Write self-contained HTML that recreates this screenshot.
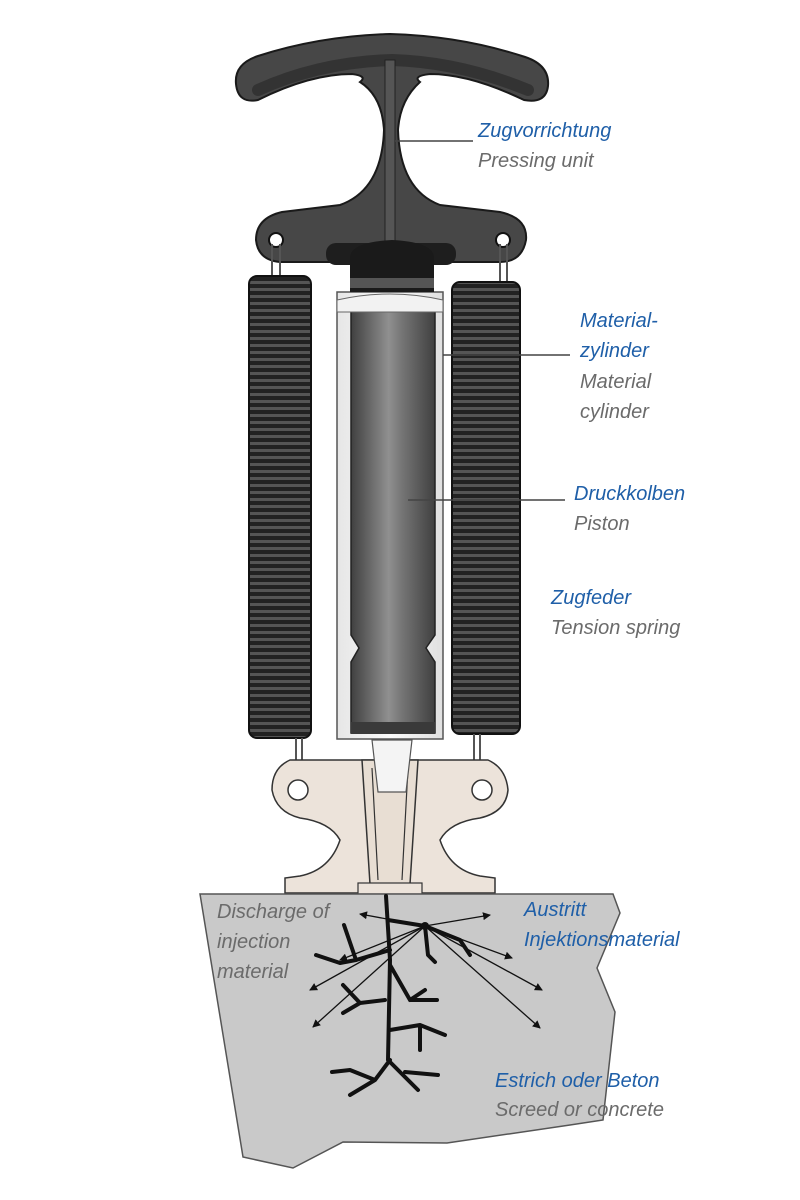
<!DOCTYPE html>
<html><head><meta charset="utf-8"><style>
html,body{margin:0;padding:0;background:#fff;}
svg{display:block}
.b{fill:#1f5fa8;font-family:"Liberation Sans",sans-serif;font-style:italic;font-size:20px}
.g{fill:#6b6b6b;font-family:"Liberation Sans",sans-serif;font-style:italic;font-size:20px}
</style></head><body>
<svg width="800" height="1200" viewBox="0 0 800 1200" xmlns="http://www.w3.org/2000/svg">
<defs>
<pattern id="coil" width="8" height="7" patternUnits="userSpaceOnUse">
<rect width="8" height="7" fill="#222"/>
<rect y="1" width="8" height="3" fill="#555"/>
</pattern>
<linearGradient id="pist" x1="0" x2="1">
<stop offset="0" stop-color="#404040"/><stop offset="0.45" stop-color="#909090"/><stop offset="0.6" stop-color="#767676"/><stop offset="1" stop-color="#404040"/>
</linearGradient>
<linearGradient id="glass" x1="0" x2="1">
<stop offset="0" stop-color="#e6e6e6"/><stop offset="0.5" stop-color="#fafafa"/><stop offset="1" stop-color="#e0e0e0"/>
</linearGradient>
<marker id="ar" markerWidth="8" markerHeight="8" refX="7" refY="4" orient="auto" markerUnits="userSpaceOnUse"><path d="M0,0 L8,4 L0,8 Z" fill="#111"/></marker>
</defs>

<!-- handle -->
<path d="M236,84 Q234,64 258,56 Q320,36 390,34 Q460,36 522,56 Q550,64 548,86 Q546,104 524,100 Q470,74 430,74 Q412,76 420,82 Q400,100 398,130 Q400,190 440,205 L500,212 Q528,218 526,240 Q522,262 500,262 L280,262 Q258,260 256,240 Q256,218 282,212 L340,205 Q382,190 384,130 Q382,96 360,82 Q368,76 352,74 Q310,74 258,100 Q238,104 236,84 Z" fill="#474747" stroke="#1a1a1a" stroke-width="2"/>
<path d="M258,90 Q320,62 392,60 Q460,62 528,90" fill="none" stroke="#333" stroke-width="12" stroke-linecap="round"/>
<rect x="385" y="60" width="10" height="190" fill="#555" stroke="#222" stroke-width="1"/>
<circle cx="276" cy="240" r="7" fill="#fff" stroke="#111" stroke-width="2"/>
<circle cx="503" cy="240" r="7" fill="#fff" stroke="#111" stroke-width="2"/>
<path d="M272,244 L272,278 M280,244 L280,278" stroke="#555" stroke-width="2"/>
<path d="M500,244 L500,282 M507,244 L507,282" stroke="#555" stroke-width="2"/>

<!-- springs -->
<rect x="249" y="276" width="62" height="462" rx="8" fill="url(#coil)" stroke="#111" stroke-width="2"/>
<rect x="452" y="282" width="68" height="452" rx="8" fill="url(#coil)" stroke="#111" stroke-width="2"/>
<path d="M296,738 L296,775 M302,738 L302,775" stroke="#555" stroke-width="2"/>
<path d="M474,734 L474,775 M480,734 L480,775" stroke="#555" stroke-width="2"/>

<!-- cylinder -->
<rect x="337" y="292" width="106" height="447" fill="url(#glass)" stroke="#555" stroke-width="1.5"/>
<path d="M351,308 L435,308 L435,635 L426,648 L435,662 L435,733 L351,733 L351,662 L359,648 L351,635 Z" fill="url(#pist)" stroke="#222" stroke-width="1.5"/>
<rect x="351" y="722" width="84" height="12" fill="#3a3a3a"/>
<rect x="326" y="243" width="130" height="22" rx="10" fill="#1e1e1e"/>
<path d="M350,258 Q350,242 392,240 Q434,242 434,258 L434,292 L350,292 Z" fill="#1a1a1a"/>
<rect x="350" y="278" width="84" height="10" fill="#555"/>
<path d="M337,300 Q390,288 443,300 L443,312 L337,312 Z" fill="#f2f2f2" stroke="#666" stroke-width="1"/>

<!-- base -->
<path d="M320,760 L290,760 Q272,768 272,790 Q276,812 300,818 Q330,822 340,840 Q330,870 300,876 L285,878 L285,893 L495,893 L495,878 L480,876 Q450,870 440,840 Q450,822 480,818 Q506,812 508,790 Q506,768 488,760 L460,760 Z" fill="#ece3da" stroke="#333" stroke-width="1.5"/>
<circle cx="298" cy="790" r="10" fill="#fff" stroke="#333" stroke-width="1.5"/>
<circle cx="482" cy="790" r="10" fill="#fff" stroke="#333" stroke-width="1.5"/>
<path d="M362,760 L370,884 L410,884 L418,760 Z" fill="#e8ded3" stroke="#333" stroke-width="1.5"/>
<path d="M372,768 L378,880 M408,768 L402,880" stroke="#333" stroke-width="1.2"/>
<path d="M372,740 L412,740 L406,792 L378,792 Z" fill="#f4f4f4" stroke="#555" stroke-width="1.2"/>
<rect x="358" y="883" width="64" height="11" fill="#ece3da" stroke="#333" stroke-width="1.2"/>

<!-- concrete -->
<path d="M200,894 L613,894 L620,913 L597,968 L615,1012 L603,1120 L570,1125 L447,1143 L343,1142 L293,1168 L243,1157 Z" fill="#c9c9c9" stroke="#555" stroke-width="1.5"/>
<g stroke="#111" stroke-width="4" fill="none" stroke-linecap="round" stroke-linejoin="round">
<path d="M386,896 L390,960 L388,1060 L418,1090"/>
<path d="M388,920 L425,926 L460,940 L470,955"/>
<path d="M425,926 L428,955 L435,962"/>
<path d="M344,925 L356,960 L340,963 L316,955"/>
<path d="M356,960 L390,950"/>
<path d="M390,965 L410,1000 L425,990 M410,1000 L437,1000"/>
<path d="M343,985 L360,1003 L343,1013 M360,1003 L385,1000"/>
<path d="M390,1030 L420,1025 L445,1035 M420,1025 L420,1050"/>
<path d="M332,1072 L350,1070 L375,1080 L350,1095 M375,1080 L390,1060 M405,1072 L438,1075"/>
</g>
<g stroke="#111" stroke-width="1.3" marker-end="url(#ar)">
<line x1="425" y1="926" x2="360" y2="914"/>
<line x1="425" y1="926" x2="490" y2="915"/>
<line x1="425" y1="926" x2="512" y2="958"/>
<line x1="425" y1="926" x2="542" y2="990"/>
<line x1="425" y1="926" x2="540" y2="1028"/>
<line x1="425" y1="926" x2="310" y2="990"/>
<line x1="425" y1="926" x2="313" y2="1027"/>
<line x1="425" y1="926" x2="340" y2="960"/>
</g>
<circle cx="425" cy="926" r="4" fill="#111"/>

<g stroke="#444" stroke-width="1.5">
<line x1="395" y1="141" x2="473" y2="141"/>
<line x1="443" y1="355" x2="570" y2="355"/>
<line x1="408" y1="500" x2="565" y2="500"/>
</g>

<text class="b" x="478" y="137">Zugvorrichtung</text>
<text class="g" x="478" y="167">Pressing unit</text>
<text class="b" x="580" y="327">Material-</text>
<text class="b" x="580" y="357">zylinder</text>
<text class="g" x="580" y="388">Material</text>
<text class="g" x="580" y="418">cylinder</text>
<text class="b" x="574" y="500">Druckkolben</text>
<text class="g" x="574" y="530">Piston</text>
<text class="b" x="551" y="604">Zugfeder</text>
<text class="g" x="551" y="634">Tension spring</text>
<text class="g" x="217" y="918">Discharge of</text>
<text class="g" x="217" y="948">injection</text>
<text class="g" x="217" y="978">material</text>
<text class="b" x="524" y="916">Austritt</text>
<text class="b" x="524" y="946">Injektionsmaterial</text>
<text class="b" x="495" y="1087">Estrich oder Beton</text>
<text class="g" x="495" y="1116">Screed or concrete</text>
</svg>
</body></html>
